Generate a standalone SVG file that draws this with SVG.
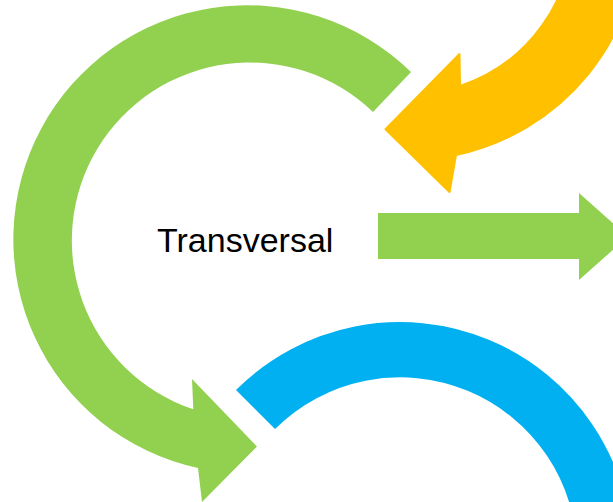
<svg xmlns="http://www.w3.org/2000/svg" width="613" height="502" viewBox="0 0 613 502">
  <style>
    .green { fill: #92D050; }
    .orange { fill: #FFC000; stroke: #FFC000; stroke-width: 2; stroke-linejoin: round; }
    .blue { fill: #00B0F0; }
    .label { font-family: "Liberation Sans", Arial, sans-serif; font-size: 34px; fill: #000000; }
  </style>
  <rect width="613" height="502" fill="#FFFFFF"/>
  <g id="blue-arc">
    <path class="blue" d="M 236,390 A 232 232 0 0 1 632,554 L 577,554 A 177 177 0 0 0 275,429 Z"/>
  </g>
  <g id="green-circular-arrow">
    <path class="green" d="M 411,72 A 234 234 0 1 0 198,468 L 202,502 L 257,446.5 L 192,379 L 193.3,409.3 A 178 178 0 1 1 373,112 Z"/>
  </g>
  <g id="orange-circular-arrow">
    <path class="orange" d="M 460,86 L 459.5,54 L 385.5,129.3 L 449.5,192 L 456,155 A 232 232 0 0 0 640,-72 L 573,-72 A 165 165 0 0 1 460,86 Z"/>
  </g>
  <g id="right-arrow">
    <path class="green" d="M 378,213 L 579,213 L 579,193 L 628,236.5 L 579,280 L 579,259 L 378,259 Z"/>
  </g>
  <g id="label">
    <text class="label" x="157" y="252">Transversal</text>
  </g>
</svg>
